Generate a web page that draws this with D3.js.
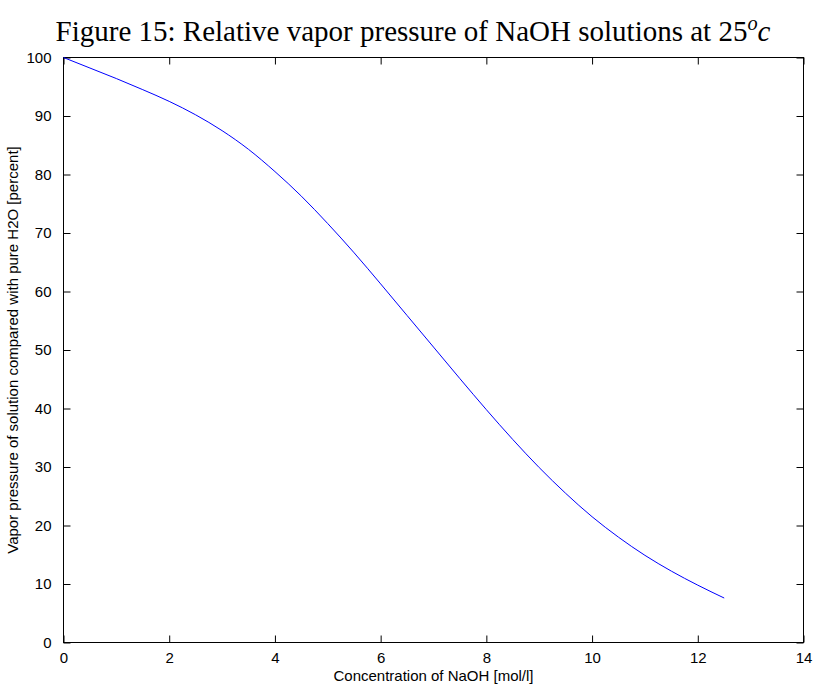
<!DOCTYPE html>
<html>
<head>
<meta charset="utf-8">
<script src="https://cdn.jsdelivr.net/npm/d3@7"></script>
<style>
  html, body { margin: 0; padding: 0; background: #fff; }
  svg { display: block; }
</style>
</head>
<body>
<svg id="chart" width="814" height="685"></svg>
<script>
// ---- data ----
const concentration = [0, 0.5, 1, 1.5, 2, 2.5, 3, 3.5, 4, 4.5, 5, 5.5, 6, 6.5, 7, 7.5, 8, 8.5, 9, 9.5, 10, 10.5, 11, 11.5, 12, 12.5];
const vaporPressure = [100, 98.2, 96.4, 94.5, 92.5, 90.2, 87.5, 84.3, 80.5, 76.3, 71.6, 66.6, 61.3, 55.9, 50.5, 45.1, 39.8, 34.7, 29.9, 25.5, 21.5, 18.0, 14.9, 12.2, 9.8, 7.6];
const xTicks = [0, 2, 4, 6, 8, 10, 12, 14];
const yTicks = [0, 10, 20, 30, 40, 50, 60, 70, 80, 90, 100];
const titleMain = "Figure 15: Relative vapor pressure of NaOH solutions at 25";
const xLabel = "Concentration of NaOH [mol/l]";
const yLabel = "Vapor pressure of solution compared with pure H2O [percent]";

const svg = d3.select("#chart");
const margin = { left: 63.5, right: 10.5, top: 57.5, bottom: 42.5 };
const W = 814, H = 685;
const x = d3.scaleLinear().domain([0, 14]).range([margin.left, W - margin.right]);
const y = d3.scaleLinear().domain([0, 100]).range([H - margin.bottom, margin.top]);
const font = "'Liberation Sans', Arial, Helvetica, sans-serif";
const tickLen = 7;
const fs = 15;

// frame
svg.append("rect")
  .attr("x", x(0)).attr("y", y(100))
  .attr("width", x(14) - x(0)).attr("height", y(0) - y(100))
  .attr("fill", "none").attr("stroke", "#000").attr("stroke-width", 1);

// axes (inward ticks on all sides)
function styleAxis(g) {
  g.select(".domain").remove();
  g.selectAll(".tick line").attr("stroke", "#000");
  g.selectAll(".tick text").attr("font-family", font).attr("font-size", fs).attr("fill", "#000");
}
svg.append("g").attr("transform", `translate(0,${y(0)})`)
  .call(d3.axisBottom(x).tickValues(xTicks).tickSize(-tickLen).tickPadding(tickLen + 3).tickFormat(d3.format("d")))
  .call(styleAxis);
svg.append("g").attr("transform", `translate(0,${y(100)})`)
  .call(d3.axisTop(x).tickValues(xTicks).tickSize(-tickLen).tickFormat(""))
  .call(styleAxis);
svg.append("g").attr("transform", `translate(${x(0)},0)`)
  .call(d3.axisLeft(y).tickValues(yTicks).tickSize(-tickLen).tickPadding(tickLen + 5).tickFormat(d3.format("d")))
  .call(styleAxis);
svg.append("g").attr("transform", `translate(${x(14)},0)`)
  .call(d3.axisRight(y).tickValues(yTicks).tickSize(-tickLen).tickFormat(""))
  .call(styleAxis);

// curve
const pts = concentration.map((c, i) => [c, vaporPressure[i]]);
svg.append("path")
  .datum(pts)
  .attr("fill", "none")
  .attr("stroke", "#0000ff")
  .attr("stroke-width", 1)
  .attr("d", d3.line().x(d => x(d[0])).y(d => y(d[1])).curve(d3.curveMonotoneX));

// axis labels
svg.append("text")
  .attr("x", (x(0) + x(14)) / 2).attr("y", 681)
  .attr("text-anchor", "middle")
  .attr("font-family", font).attr("font-size", fs)
  .text(xLabel);
svg.append("text")
  .attr("transform", `translate(18,${(y(0) + y(100)) / 2}) rotate(-90)`)
  .attr("text-anchor", "middle")
  .attr("font-family", font).attr("font-size", fs)
  .text(yLabel);

// title
const title = svg.append("text")
  .attr("x", 413).attr("y", 41)
  .attr("text-anchor", "middle")
  .attr("font-family", "'Liberation Serif', 'Times New Roman', serif")
  .attr("font-size", 29)
  .attr("fill", "#000");
title.append("tspan").text(titleMain);
title.append("tspan").attr("font-style", "italic").attr("font-size", "0.7em").attr("dy", -11).text("o");
title.append("tspan").attr("font-style", "italic").attr("dy", 11).text("c");
</script>
</body>
</html>
